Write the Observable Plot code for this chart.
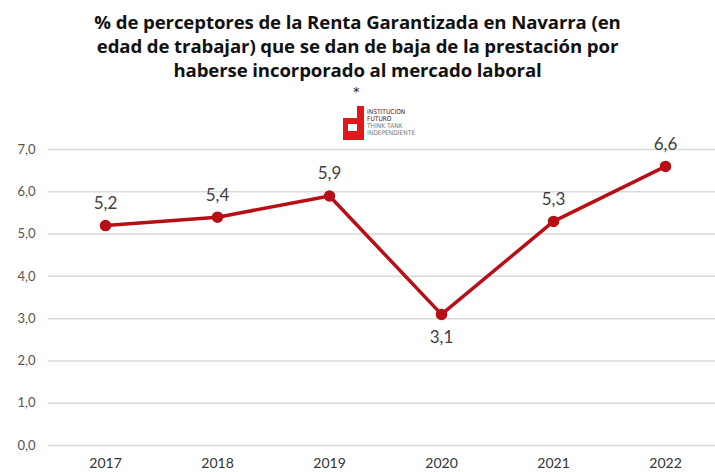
<!DOCTYPE html>
<html>
<head>
<meta charset="utf-8">
<script src="https://cdn.jsdelivr.net/npm/d3@7"></script>
<script src="https://cdn.jsdelivr.net/npm/@observablehq/plot@0.6"></script>
<style>
  html, body { margin: 0; padding: 0; background: #fff; width: 715px; height: 472px; overflow: hidden; }
  #title { position: absolute; left: 0; top: 10px; width: 715px; text-align: center;
    font-family: "Open Sans", "DejaVu Sans", sans-serif; font-weight: 700; font-size: 18.6px;
    line-height: 24px; color: #111; letter-spacing: -0.1px; }
  #star { position: absolute; left: 353px; top: 84px; font-family: "DejaVu Sans", sans-serif; font-size: 13px; color: #222; }
  #logo { position: absolute; left: 342px; top: 105px; }
  #chart { position: absolute; left: 0; top: 120px; }
</style>
</head>
<body>
<div id="title">% de perceptores de la Renta Garantizada en Navarra (en<br>edad de trabajar) que se dan de baja de la prestación por<br>haberse incorporado al mercado laboral</div>
<div id="star">*</div>
<div id="chart"></div>
<svg id="logo" width="92" height="38" xmlns="http://www.w3.org/2000/svg">
  <rect x="15" y="1" width="7" height="34" fill="#e3161b"/>
  <rect x="1" y="13" width="21" height="6" fill="#e3161b"/>
  <rect x="1" y="26" width="21" height="9" fill="#e3161b"/>
  <rect x="1" y="13" width="5" height="22" fill="#e3161b"/>
  <g font-family="DejaVu Sans Condensed, DejaVu Sans, sans-serif" font-size="6.6">
    <text x="25" y="9" fill="#5a1414">INSTITUCION</text>
    <text x="25" y="16" fill="#5a1414">FUTURO</text>
    <text x="25" y="23" fill="#777">THINK TANK</text>
    <text x="25" y="30" fill="#777">INDEPENDIENTE</text>
  </g>
</svg>
<script>
const years = ["2017", "2018", "2019", "2020", "2021", "2022"];
const values = [5.2, 5.4, 5.9, 3.1, 5.3, 6.6];
const yTicks = [0, 1, 2, 3, 4, 5, 6, 7];
const labelBelow = ["2020"];

const data = years.map((y, i) => ({ year: y, value: values[i] }));
const fmt = d => d.toFixed(1).replace(".", ",");
const red = "#b80f16";

const chart = Plot.plot({
  width: 715,
  height: 352,
  marginLeft: 48,
  marginRight: 0,
  marginTop: 29,
  marginBottom: 27,
  style: { fontFamily: "Lato, 'Open Sans', sans-serif", fontSize: "13px", color: "#555", background: "transparent" },
  x: { type: "point", domain: years, range: [104, 666], padding: 0, label: null, tickSize: 0, tickPadding: 13 },
  y: { domain: [0, 7], ticks: yTicks, tickFormat: fmt, label: null, tickSize: 0, tickPadding: 13 },
  marks: [
    Plot.ruleY(yTicks, { stroke: "#d9d9d9", strokeWidth: 1.5 }),
    Plot.axisX({ tickSize: 0, tickPadding: 13, fontSize: 14, fill: "#333", label: null }),
    Plot.line(data, { x: "year", y: "value", stroke: red, strokeWidth: 3.5 }),
    Plot.dot(data, { x: "year", y: "value", r: 5, fill: red, stroke: red }),
    Plot.text(data.filter(d => !labelBelow.includes(d.year)), { x: "year", y: "value", text: d => fmt(d.value), dy: -22, fontSize: 17, fill: "#404040", fontFamily: "Lato, sans-serif" }),
    Plot.text(data.filter(d => labelBelow.includes(d.year)), { x: "year", y: "value", text: d => fmt(d.value), dy: 23, fontSize: 17, fill: "#404040", fontFamily: "Lato, sans-serif" })
  ]
});
document.getElementById("chart").appendChild(chart);
</script>
</body>
</html>
